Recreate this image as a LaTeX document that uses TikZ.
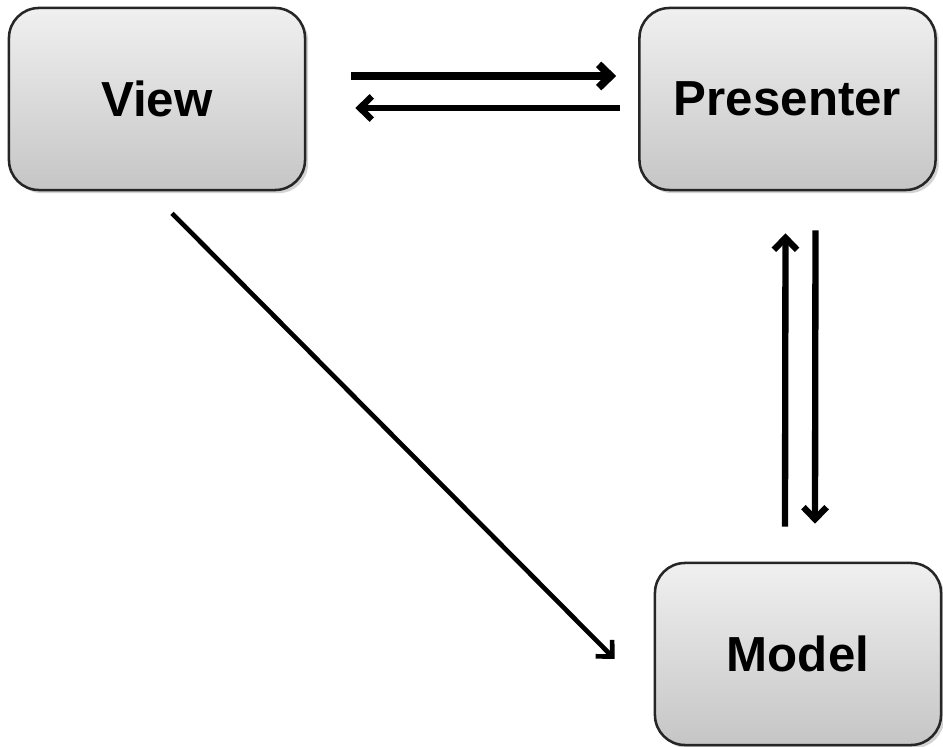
\documentclass[tikz,border=0pt]{standalone}
\usepackage{fontspec}
\setmainfont{Liberation Sans}
\usetikzlibrary{arrows.meta,shadows,calc}

\begin{document}
\begin{tikzpicture}[x=0.025cm,y=-0.025cm]
        \tikzstyle{every node}=[draw=black!85,line width=1.8pt,rounded corners=0.75cm,top color=gray!12,bottom color=gray!45,
            drop shadow={shadow xshift=0.08cm,shadow yshift=-0.08cm,opacity=0.35},
            minimum width=7.4cm,minimum height=4.55cm,font=\fontsize{35}{40}\selectfont\bfseries]
        \tikzstyle{flow}=[line width=4.5pt,-{Straight Barb[length=0.3cm,width=0.58cm]}]
        \useasboundingbox (0,0) rectangle (943,747);
        \node (view) at (157,99) {View};
        \node (presenter) at (787.5,99) {Presenter};
        \node[minimum width=7.15cm] (model) at (798,654) {Model};
        % view <-> presenter
        \draw[flow,line width=5.5pt] ($(view.east)+(45,-23)$) -- ($(presenter.west)+(-22,-23)$);
        \draw[flow] ($(presenter.west)+(-18,9)$) -- ($(view.east)+(49,9)$);
        % presenter <-> model
        \draw[flow] ($(model.north)+(-13,-35)$) -- ($(presenter.south)+(-2,42)$);
        \draw[flow] ($(presenter.south)+(28,39)$) -- ($(model.north)+(17,-38)$);
        % view -> model
        \draw[flow,line width=3.3pt] ($(view.south)+(15,22)$) -- ($(model.west)+(-39,5)$);
\end{tikzpicture}
\end{document}
